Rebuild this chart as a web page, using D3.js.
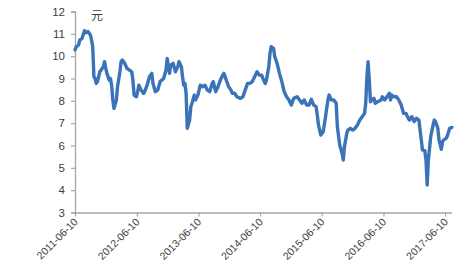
<!DOCTYPE html>
<html><head><meta charset="utf-8">
<script src="https://cdn.jsdelivr.net/npm/d3@7"></script>
<style>html,body{margin:0;padding:0;background:#fff;}svg{display:block;}</style>
</head><body>
<script>
const dates = ["2011-06-10","2011-06-17","2011-07-01","2011-07-08","2011-07-22","2011-08-05","2011-08-12","2011-08-26","2011-09-09","2011-09-16","2011-09-23","2011-09-30","2011-10-07","2011-10-14","2011-10-21","2011-11-04","2011-11-18","2011-11-25","2011-12-02","2011-12-09","2011-12-16","2011-12-30",
"2012-01-06","2012-01-13","2012-01-20","2012-01-27","2012-02-10","2012-02-17","2012-03-02","2012-03-09","2012-03-16","2012-03-30","2012-04-13","2012-04-27","2012-05-11","2012-05-18","2012-05-25","2012-06-08","2012-06-15","2012-06-22","2012-07-06","2012-07-20","2012-07-27","2012-08-10","2012-08-24","2012-09-07","2012-09-14","2012-09-28","2012-10-12","2012-10-26","2012-11-16","2012-11-30","2012-12-07","2012-12-21","2012-12-28",
"2013-01-11","2013-01-25","2013-02-08","2013-02-15","2013-03-01","2013-03-08","2013-03-15","2013-03-22","2013-03-29","2013-04-05","2013-04-19","2013-04-26","2013-05-03","2013-05-17","2013-05-24","2013-06-07","2013-06-21","2013-07-05","2013-07-19","2013-08-02","2013-08-16","2013-08-30","2013-09-06","2013-09-20","2013-10-04","2013-10-18","2013-11-01","2013-11-08","2013-11-22","2013-12-06","2013-12-20","2013-12-27",
"2014-01-10","2014-01-24","2014-02-14","2014-02-28","2014-03-14","2014-03-28","2014-04-11","2014-04-25","2014-05-09","2014-05-23","2014-06-06","2014-06-20","2014-06-27","2014-07-11","2014-07-18","2014-08-01","2014-08-08","2014-08-15","2014-08-29","2014-09-05","2014-09-19","2014-10-03","2014-10-17","2014-10-31","2014-11-14","2014-11-28","2014-12-12","2014-12-26",
"2015-01-16","2015-01-30","2015-02-13","2015-02-27","2015-03-13","2015-03-27","2015-04-10","2015-04-24","2015-05-08","2015-05-15","2015-05-22","2015-06-05","2015-06-19","2015-07-03","2015-07-17","2015-07-24","2015-08-07","2015-08-21","2015-09-04","2015-09-11","2015-09-25","2015-10-09","2015-10-16","2015-10-23","2015-11-06","2015-11-13","2015-11-27","2015-12-11","2015-12-25",
"2016-01-08","2016-01-22","2016-02-05","2016-02-19","2016-02-26","2016-03-04","2016-03-11","2016-03-18","2016-03-25","2016-04-01","2016-04-15","2016-04-22","2016-05-06","2016-05-27","2016-06-03","2016-06-17","2016-07-01","2016-07-08","2016-07-15","2016-07-22","2016-07-29","2016-08-12","2016-08-26","2016-09-09","2016-09-23","2016-10-07","2016-10-21","2016-11-04","2016-11-11","2016-11-25","2016-12-09","2016-12-23",
"2017-01-06","2017-01-13","2017-01-20","2017-01-27","2017-02-10","2017-02-17","2017-02-24","2017-03-03","2017-03-17","2017-03-31","2017-04-07","2017-04-14","2017-04-28","2017-05-05","2017-05-19","2017-05-26","2017-06-02","2017-06-16","2017-06-23","2017-07-07","2017-07-21"];
const prices = [10.28,10.42,10.5,10.72,10.8,11.14,11.05,11.1,10.95,10.72,10.42,9.08,9.0,8.78,8.86,9.3,9.45,9.53,9.75,9.45,9.23,8.93,
9.0,8.7,8.04,7.66,8.04,8.63,9.3,9.75,9.83,9.68,9.45,9.38,9.3,8.93,8.26,8.18,8.41,8.7,8.48,8.33,8.41,8.7,9.08,9.23,8.78,8.41,8.48,8.86,9.0,9.38,9.9,9.23,9.6,
9.68,9.3,9.53,9.75,9.53,9.08,8.7,8.78,8.34,6.77,7.14,7.74,7.89,8.26,8.04,8.26,8.7,8.63,8.7,8.48,8.41,8.78,8.86,8.41,8.63,8.93,9.15,9.23,8.93,8.63,8.48,8.34,
8.34,8.18,8.11,8.18,8.48,8.78,8.78,8.86,9.08,9.3,9.15,9.15,9.0,8.78,8.93,9.53,10.13,10.42,10.35,9.98,9.68,9.23,8.86,8.41,8.18,8.04,7.81,8.11,
8.18,8.04,7.89,8.04,7.81,7.81,8.07,7.81,7.74,7.37,6.92,6.47,6.62,7.29,8.04,8.26,8.04,8.04,7.89,6.84,6.02,5.65,5.35,5.95,6.55,6.69,6.77,6.69,6.77,
6.92,7.14,7.29,7.44,7.89,9.08,9.75,8.93,7.96,8.04,8.11,7.89,7.96,8.04,8.18,8.04,8.18,8.26,8.34,8.04,8.26,8.18,8.18,8.04,7.81,7.44,7.44,7.22,7.14,7.29,7.07,7.22,
7.14,6.69,6.25,5.8,5.77,5.35,4.23,5.35,6.4,6.92,7.14,7.07,6.77,6.25,5.83,6.17,6.25,6.32,6.42,6.77,6.81];
const xTickLabels = ["2011-06-10","2012-06-10","2013-06-10","2014-06-10","2015-06-10","2016-06-10","2017-06-10"];
const yTicks = [3,4,5,6,7,8,9,10,11,12];
const yUnit = "元";

const W = 466, H = 272;
const parse = d3.timeParse("%Y-%m-%d");
const data = dates.map((d,i)=>({date:parse(d), v:prices[i]}));

const svg = d3.select("body").append("svg").attr("width",W).attr("height",H);
const x = d3.scaleTime().domain([parse("2011-06-10"), parse("2017-07-21")]).range([75,452]);
const y = d3.scaleLinear().domain([3,12]).range([212.5,11.5]);

const axisColor = "#a6a6a6", textColor = "#404040";
const font = "Liberation Sans, Arial, sans-serif";

// y axis
const ya = svg.append("g").attr("transform","translate(75,0)")
  .call(d3.axisLeft(y).tickValues(yTicks).tickSize(4).tickPadding(6).tickFormat(d3.format("d")));
ya.select(".domain").attr("stroke",axisColor).attr("stroke-width",1.3);
ya.selectAll(".tick line").attr("stroke",axisColor).attr("stroke-width",1.2);
ya.selectAll(".tick text").attr("fill",textColor).style("font-family",font).style("font-size","11.5px");

// x axis
const xa = svg.append("g").attr("transform","translate(0,212.5)")
  .call(d3.axisBottom(x).tickValues(xTickLabels.map(parse)).tickSize(4).tickFormat(d3.timeFormat("%Y-%m-%d")));
xa.select(".domain").attr("stroke",axisColor).attr("stroke-width",1.3).attr("d","M75,0.5H452");
xa.selectAll(".tick line").attr("stroke",axisColor).attr("stroke-width",1.2);
xa.selectAll(".tick text").attr("fill",textColor).style("font-family",font).style("font-size","10.5px")
  .attr("text-anchor","end").attr("dy",null).attr("y",0)
  .attr("transform","translate(3,10) rotate(-45)");

// unit label
svg.append("text").attr("x",97).attr("y",20).attr("text-anchor","middle")
  .attr("fill",textColor).style("font-family","Noto Sans CJK SC, sans-serif").style("font-size","12px").text(yUnit);

// line
svg.append("path").datum(data)
  .attr("fill","none").attr("stroke","#3b73b9").attr("stroke-width",3.4)
  .attr("stroke-linejoin","round").attr("stroke-linecap","round")
  .attr("d", d3.line().x(d=>x(d.date)).y(d=>y(d.v)));
</script>
</body></html>
